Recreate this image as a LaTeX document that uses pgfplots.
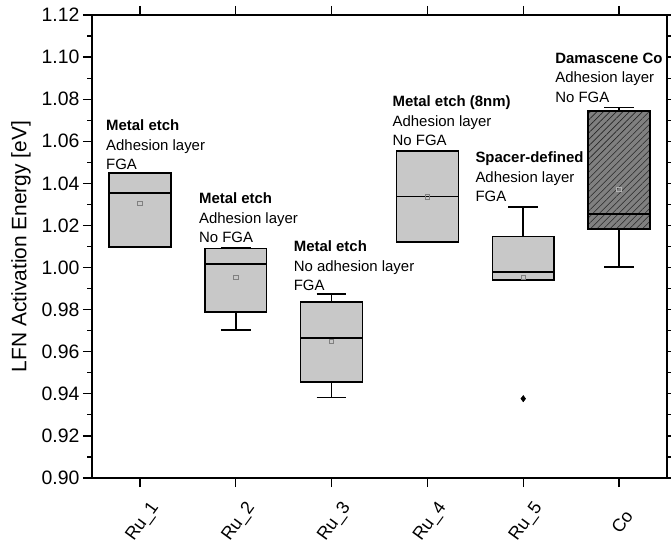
\documentclass[border=0pt]{standalone}
\usepackage{fontspec}
\setmainfont{Liberation Sans}
\usepackage{pgfplots}
\pgfplotsset{compat=1.18}
\usepgfplotslibrary{statistics}
\usetikzlibrary{patterns.meta}
\definecolor{boxgray}{HTML}{C8C8C8}
\definecolor{cogray}{HTML}{808080}
\definecolor{meangray}{HTML}{808080}
\begin{document}
\begin{tikzpicture}
\useasboundingbox (-92bp,-68bp) rectangle (579bp,478bp);
\begin{axis}[
  at={(0,0)}, anchor=south west,
  scale only axis, width=575bp, height=463bp,
  xmin=-0.5, xmax=5.5, ymin=0.90, ymax=1.12,
  xtick={0,1,2,3,4,5},
  xticklabels={Ru\_1,Ru\_2,Ru\_3,Ru\_4,Ru\_5,Co},
  ytick={0.90,0.92,0.94,0.96,0.98,1.00,1.02,1.04,1.06,1.08,1.10,1.12},
  minor y tick num=1,
  tick align=outside,
  major tick length=9bp, minor tick length=4.5bp,
  every tick/.style={black, line width=1.2bp},
  axis line style={line width=1.6bp},
  /pgf/number format/assume math mode=true,
  yticklabel style={font=\fontsize{19.5}{22}\selectfont, /pgf/number format/.cd, fixed, fixed zerofill, precision=2},
  xticklabel style={font=\fontsize{18}{21}\selectfont, xshift=3bp, yshift=-35bp, rotate=54, anchor=center},
  ylabel={LFN Activation Energy [eV]},
  ylabel style={font=\fontsize{21}{25}\selectfont},
  ylabel shift=4bp,
  clip=false,
  boxplot/draw direction=y,
  boxplot/box extend=0.645,
  boxplot/whisker extend=0.31,
  boxplot/every box/.style={draw=black, line width=1.6bp, fill=boxgray},
  boxplot/every whisker/.style={black, line width=1.6bp},
  boxplot/every median/.style={black, line width=1.6bp},
  bx/.style={black, line width=1.6bp, boxplot/draw direction=y},
]
% Ru_1
\addplot[bx, boxplot prepared={draw position=0, lower whisker=1.0099, lower quartile=1.0099, median=1.0353, upper quartile=1.0450, upper whisker=1.0450}] coordinates {};
% Ru_2
\addplot[bx, boxplot prepared={draw position=1, lower whisker=0.9703, lower quartile=0.9790, median=1.0017, upper quartile=1.0091, upper whisker=1.0093}] coordinates {};
% Ru_3
\addplot[bx, boxplot prepared={draw position=2, lower whisker=0.9383, lower quartile=0.9455, median=0.9664, upper quartile=0.9836, upper whisker=0.9873}] coordinates {};
% Ru_4
\addplot[bx, boxplot prepared={draw position=3, lower whisker=1.0121, lower quartile=1.0121, median=1.0337, upper quartile=1.0554, upper whisker=1.0554}] coordinates {};
% Ru_5
\addplot[bx, boxplot prepared={draw position=4, lower whisker=0.9941, lower quartile=0.9941, median=0.9979, upper quartile=1.0147, upper whisker=1.0289}] coordinates {};
% Co
\addplot[bx, boxplot prepared={draw position=5, lower whisker=1.0004, lower quartile=1.0182, median=1.0254, upper quartile=1.0745, upper whisker=1.0761},
  boxplot/every box/.style={draw=black, line width=1.6bp, fill=cogray, postaction={pattern={Lines[angle=45,distance=4.6bp,line width=0.6bp]}, pattern color=black!85}}] coordinates {};
% means
\addplot[only marks, mark=square, mark size=2.2bp, draw=meangray, mark options={line width=0.8bp}] coordinates {(0,1.0305) (1,0.9954) (2,0.9648) (3,1.0335) (4,0.9952)};
\addplot[only marks, mark=square, mark size=2.2bp, draw=black!30, mark options={line width=0.8bp}] coordinates {(5,1.0372)};
% outlier
\addplot[only marks, mark=diamond*, mark size=3.2bp, black] coordinates {(4,0.9377)};
% annotations
\tikzset{ann/.style={anchor=north west, align=left, inner sep=0pt, font=\fontsize{15}{19.5}\selectfont}}
\node[ann] at (axis cs:-0.354,1.0702) {\textbf{Metal etch}\\Adhesion layer\\FGA};
\node[ann] at (axis cs:0.615,1.0356) {\textbf{Metal etch}\\Adhesion layer\\No FGA};
\node[ann] at (axis cs:1.604,1.0127) {\textbf{Metal etch}\\No adhesion layer\\FGA};
\node[ann] at (axis cs:2.635,1.0816) {\textbf{Metal etch (8nm)}\\Adhesion layer\\No FGA};
\node[ann] at (axis cs:3.5,1.0550) {\textbf{Spacer-defined}\\Adhesion layer\\FGA};
\node[ann] at (axis cs:4.333,1.1020) {\textbf{Damascene Co}\\Adhesion layer\\No FGA};
\end{axis}
\end{tikzpicture}
\end{document}
